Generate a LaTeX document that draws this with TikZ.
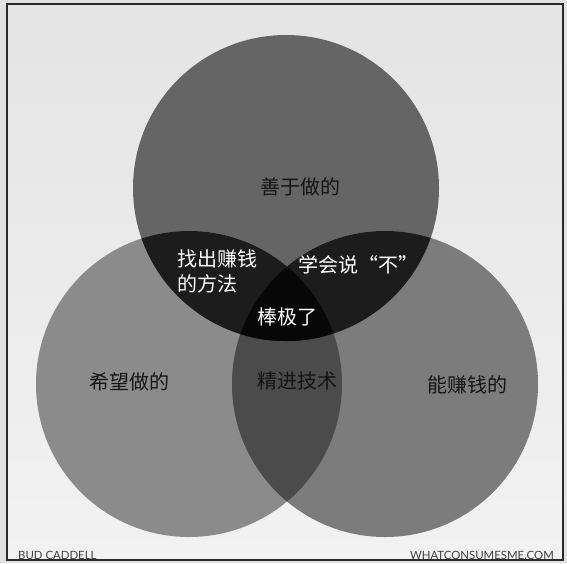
\documentclass[tikz,border=0pt]{standalone}
\usepackage{fontspec}
\newfontfamily\cjk{Noto Sans CJK SC}
\newfontfamily\creditfont{Lato}

\definecolor{pagebg}{HTML}{E2E2E2}
\definecolor{paneltop}{HTML}{E4E4E4}
\definecolor{panelbottom}{HTML}{F2F2F2}
\definecolor{framegray}{HTML}{2A2A2A}
\definecolor{goodgray}{HTML}{656565}
\definecolor{lovegray}{HTML}{8B8B8B}
\definecolor{paidgray}{HTML}{7C7C7C}
\definecolor{craftgray}{HTML}{4B4B4B}
\definecolor{pairgray}{HTML}{1C1C1C}
\definecolor{coregray}{HTML}{070707}

\tikzset{
  venn label/.style={font=\cjk\fontsize{20}{25}\selectfont, text=black!92, inner sep=0pt},
  inner label/.style={venn label, text=white},
  credit/.style={font=\creditfont\fontsize{11.4}{13}\selectfont, text=black!75, inner sep=0pt},
}

\begin{document}
\begin{tikzpicture}[x=1pt, y=-1pt]
    \useasboundingbox (0,0) rectangle (567,563);
    \fill[pagebg] (0,0) rectangle (567,563);

    % Panel and frame
    \shade[top color=paneltop, bottom color=panelbottom] (7,4) rectangle (563,560);
    \draw[framegray, line width=1.6pt] (7,4) rectangle (563,560);

    % Circle centres
    \coordinate (good) at (286,188);
    \coordinate (love) at (189,384);
    \coordinate (paid) at (385,384);

    % The three circles
    \fill[goodgray] (good) circle[radius=153pt];
    \fill[lovegray] (love) circle[radius=153pt];
    \fill[paidgray] (paid) circle[radius=153pt];

    % Overlaps
    \begin{scope}
        \clip (love) circle[radius=153pt];
        \fill[craftgray] (paid) circle[radius=153pt];
    \end{scope}
    \begin{scope}
        \clip (good) circle[radius=153pt];
        \fill[pairgray] (love) circle[radius=153pt];
        \fill[pairgray] (paid) circle[radius=153pt];
    \end{scope}
    \begin{scope}
        \clip (good) circle[radius=153pt];
        \clip (love) circle[radius=153pt];
        \fill[coregray] (paid) circle[radius=153pt];
    \end{scope}

    % Labels
    \node[venn label] (skill) at (300,187) {善于做的};
    \node[inner label, align=left] (method) at (217,271) {找出赚钱\\的方法};
    \node[inner label] (sayno) at (358,265) {学会说“不”};
    \node[inner label] (great) at (287,317) {棒极了};
    \node[venn label] (want) at (129,382) {希望做的};
    \node[venn label] (craft) at (297,381) {精进技术};
    \node[venn label] (earn) at (467,385) {能赚钱的};

    % Credits
    \node[credit, anchor=west] (author) at (18,555) {BUD CADDELL};
    \node[credit, anchor=east] (site) at (554,555) {WHATCONSUMESME.COM};
\end{tikzpicture}
\end{document}
